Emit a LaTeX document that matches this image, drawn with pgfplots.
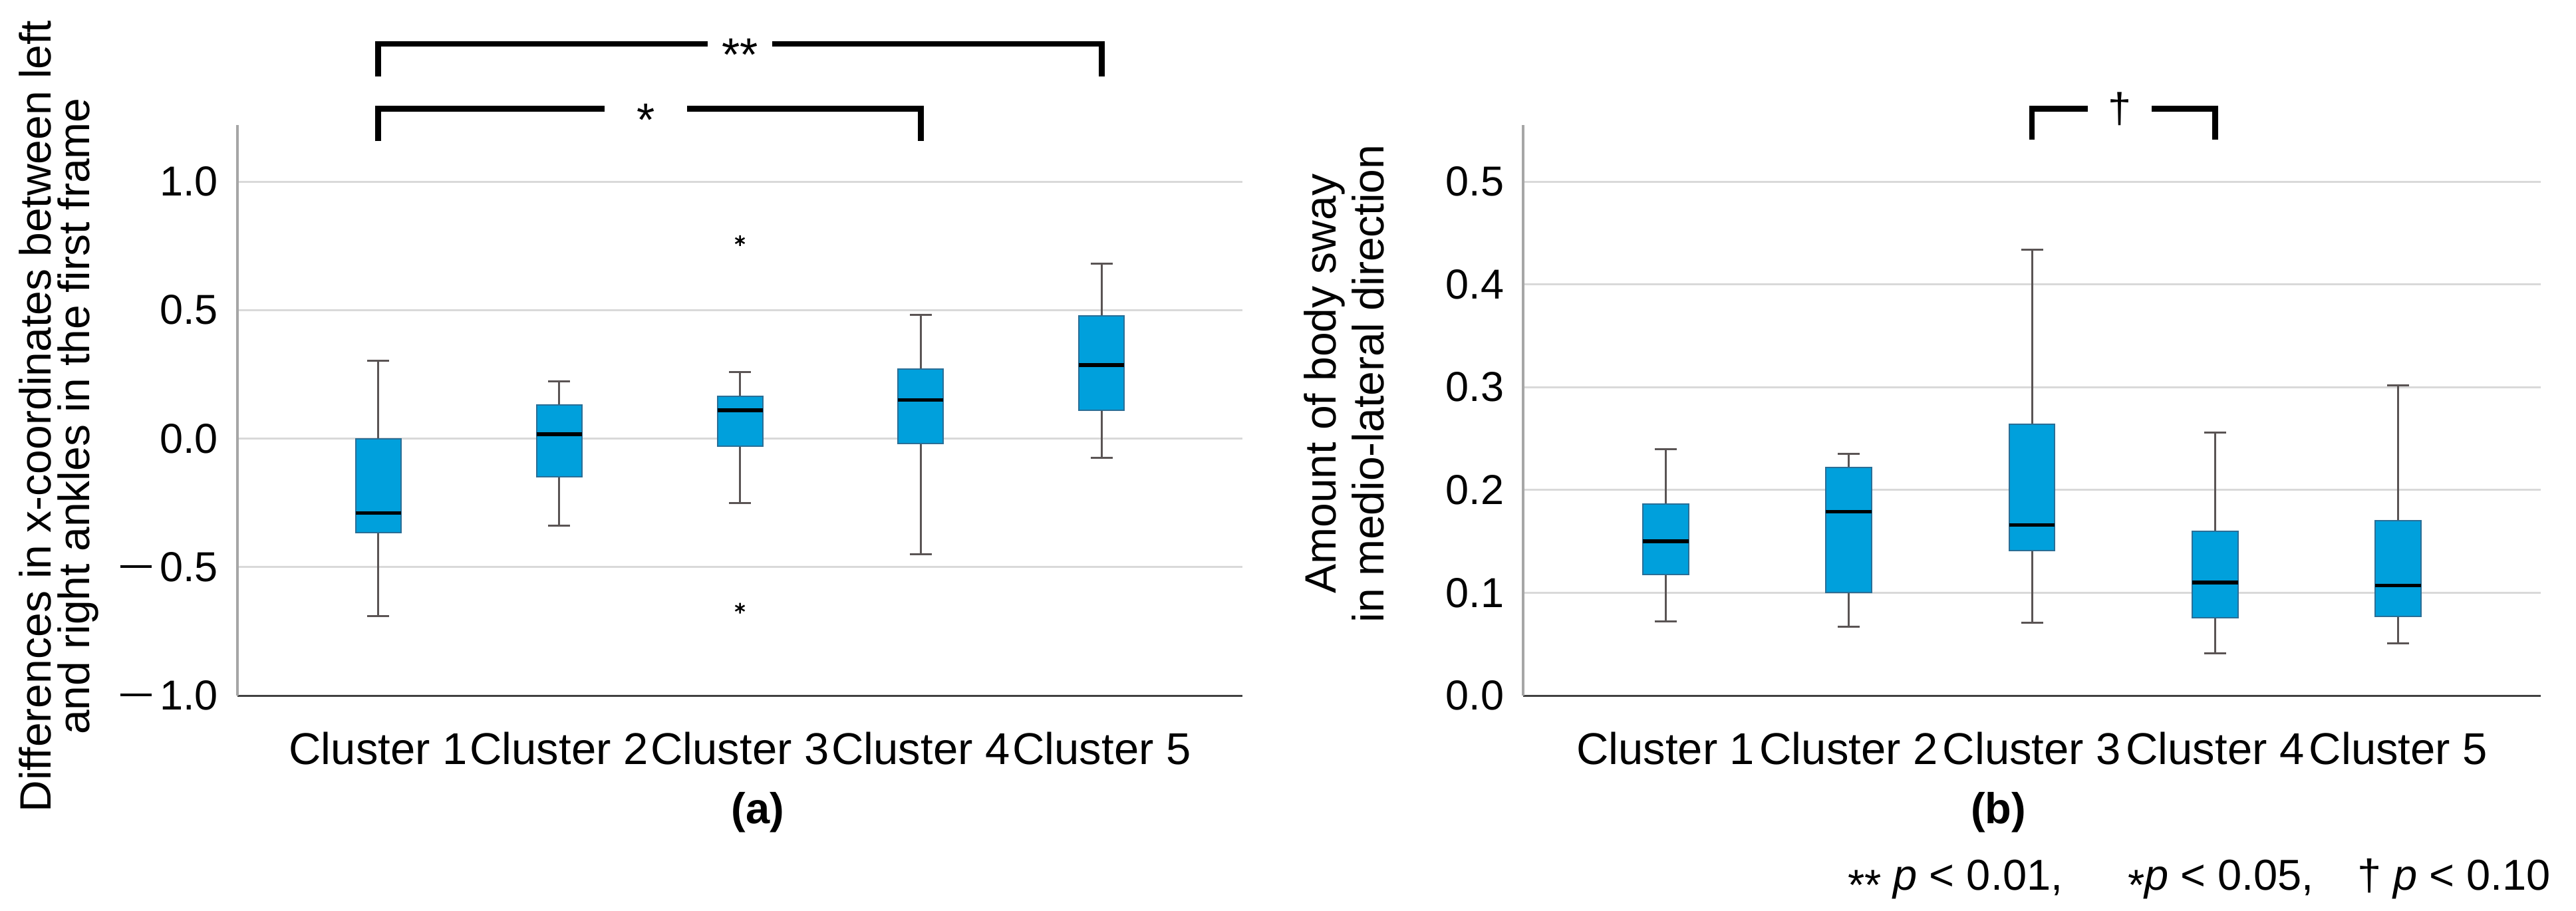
\documentclass[border=0pt]{standalone}
\usepackage{fontspec}
\setmainfont{Liberation Sans}
\usepackage{pgfplots}
\pgfplotsset{compat=1.18}
\usepgfplotslibrary{statistics}
\definecolor{boxfill}{HTML}{00A0DC}
\definecolor{boxedge}{HTML}{2A6E96}
\definecolor{whisk}{HTML}{5A5454}
\definecolor{gridc}{HTML}{D9D9D9}
\definecolor{yline}{HTML}{A6A6A6}
\definecolor{xline}{HTML}{404040}
\newcommand{\mn}{\rule[0.33em]{0.76em}{0.065em}\hspace{0.19em}}
\tikzset{brk/.style={line width=0.85pt, black}}
\pgfplotsset{
  bx/.style n args={6}{boxplot prepared={draw position=#1, lower whisker=#2,
      lower quartile=#3, median=#4, upper quartile=#5, upper whisker=#6,
      box extend=0.25, whisker extend=0.12},
    boxplot/draw direction=y,
    draw=boxedge, fill=boxfill, line width=0.2pt,
    boxplot/every whisker/.style={draw=whisk, fill=none, line width=0.3pt},
    boxplot/every median/.style={draw=black, fill=none, line width=0.55pt}},
  common/.style={
    scale only axis, height=85.8pt, anchor=south west,
    axis lines*=left,
    xmin=0.222, xmax=5.778,
    xtick={1,2,3,4,5},
    xticklabels={Cluster 1,Cluster 2,Cluster 3,Cluster 4,Cluster 5},
    major tick length=0pt, tick style={draw=none},
    ymajorgrids, grid style={draw=gridc, line width=0.3pt},
    x axis line style={draw=xline, line width=0.3pt},
    y axis line style={draw=yline, line width=0.35pt},
    xticklabel style={font=\fontsize{6.7}{8}\selectfont, anchor=center, yshift=-8pt},
    yticklabel style={font=\fontsize{6.3}{7.5}\selectfont, anchor=east, inner sep=0pt, xshift=-2.7pt},
    clip=false,
    ylabel style={font=\fontsize{6.6}{5.8}\selectfont, align=center, anchor=center},
    xlabel style={font=\bfseries\fontsize{6.5}{7.8}\selectfont, anchor=center},
  },
}
\begin{document}
\begin{tikzpicture}
\useasboundingbox (0,0) rectangle (387.3pt,136.9pt);
% ---------------- (a)
\begin{axis}[common, at={(35.7pt,32.3pt)}, width=151.1pt,
  ymin=-1, ymax=1.22,
  ytick={-1,-0.5,0,0.5,1},
  yticklabels={\mn1.0,\mn0.5,0.0,0.5,1.0},
  ylabel={Differences in x-coordinates between left\\and right ankles in the first frame},
  ylabel style={at={(axis description cs:-0.178,0.4895)}},
  xlabel={(a)},
  xlabel style={at={(axis description cs:0.518,-0.205)}},
]
\addplot[bx={1}{-0.69}{-0.366}{-0.29}{0.0}{0.304}] coordinates {};
\addplot[bx={2}{-0.34}{-0.15}{0.017}{0.132}{0.223}] coordinates {};
\addplot[bx={3}{-0.25}{-0.03}{0.11}{0.165}{0.26}] coordinates {};
\addplot[bx={4}{-0.45}{-0.02}{0.15}{0.27}{0.48}] coordinates {};
\addplot[bx={5}{-0.075}{0.11}{0.286}{0.477}{0.68}] coordinates {};
\addplot[only marks, mark=asterisk, mark size=0.8pt, mark options={draw=black, line width=0.25pt}]
  coordinates {(3,0.77) (3,-0.66)};
\draw[brk] (axis cs:1,1.41) -- (axis cs:1,1.536) -- (axis cs:5,1.536) -- (axis cs:5,1.41);
\node[fill=white, inner xsep=2.15pt, inner ysep=0.3pt, font=\fontsize{7}{8}\selectfont, yshift=-1.7pt]
  at (axis cs:3,1.536) {**};
\draw[brk] (axis cs:1,1.157) -- (axis cs:1,1.284) -- (axis cs:4,1.284) -- (axis cs:4,1.157);
\node[fill=white, inner xsep=4.8pt, inner ysep=0.3pt, font=\fontsize{7}{8}\selectfont, yshift=-1.7pt]
  at (axis cs:2.48,1.284) {*};
\end{axis}
% ---------------- (b)
\begin{axis}[common, at={(229.0pt,32.3pt)}, width=153pt,
  ymin=0, ymax=0.555,
  ytick={0,0.1,0.2,0.3,0.4,0.5},
  yticklabels={0.0,0.1,0.2,0.3,0.4,0.5},
  ylabel={Amount of body sway\\in medio-lateral direction},
  ylabel style={at={(axis description cs:-0.1758,0.5466)}},
  xlabel={(b)},
  xlabel style={at={(axis description cs:0.467,-0.205)}},
]
\addplot[bx={1}{0.072}{0.118}{0.150}{0.186}{0.240}] coordinates {};
\addplot[bx={2}{0.067}{0.100}{0.179}{0.222}{0.235}] coordinates {};
\addplot[bx={3}{0.071}{0.141}{0.166}{0.264}{0.434}] coordinates {};
\addplot[bx={4}{0.041}{0.076}{0.110}{0.160}{0.256}] coordinates {};
\addplot[bx={5}{0.051}{0.077}{0.107}{0.170}{0.302}] coordinates {};
\draw[brk] (axis cs:3,0.541) -- (axis cs:3,0.571) -- (axis cs:4,0.571) -- (axis cs:4,0.541);
\node[fill=white, inner xsep=3.05pt, inner ysep=0.3pt, font=\fontsize{6.3}{7.5}\selectfont]
  at (axis cs:3.48,0.571) {†};
\end{axis}
\node[anchor=base east, inner sep=0pt, font=\fontsize{6.5}{7.8}\selectfont] at (383.7pt,3.1pt)
  {\raisebox{-0.45ex}{**} \textit{p} < 0.01,\hspace{1.5em}\raisebox{-0.45ex}{*}\textit{p} < 0.05,\hspace{1.0em}† \textit{p} < 0.10};
\end{tikzpicture}
\end{document}
